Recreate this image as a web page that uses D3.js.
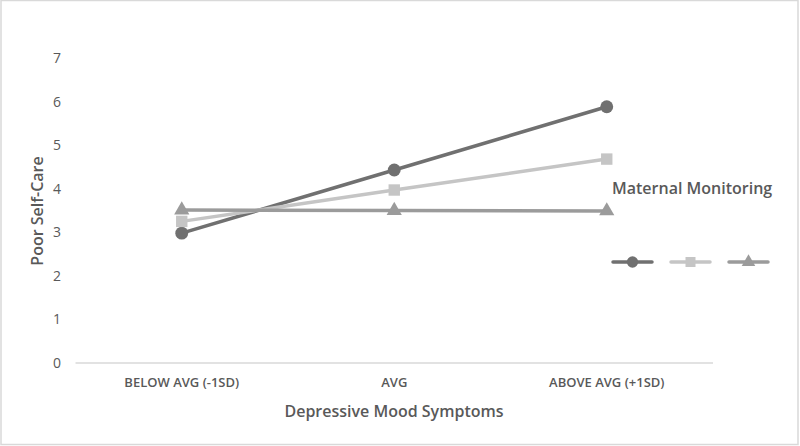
<!DOCTYPE html>
<html><head><meta charset="utf-8">
<script src="https://cdn.jsdelivr.net/npm/d3@7"></script>
<style>html,body{margin:0;padding:0;background:#fff;}svg{display:block;font-family:"Open Sans",sans-serif;}</style>
</head><body><svg id="c" width="800" height="446"></svg>
<script>
const categories = ["BELOW AVG (-1SD)", "AVG", "ABOVE AVG (+1SD)"];
const seriesNames = ["Low", "Average", "High"];
const seriesA = [2.98, 4.43, 5.88];
const seriesB = [3.25, 3.97, 4.68];
const seriesC = [3.51, 3.50, 3.49];
const yTicks = [0, 1, 2, 3, 4, 5, 6, 7];

const series = [
  {name: seriesNames[0], values: seriesA, color: "#707070", shape: d3.symbolCircle},
  {name: seriesNames[1], values: seriesB, color: "#c5c5c5", shape: d3.symbolSquare},
  {name: seriesNames[2], values: seriesC, color: "#9b9b9b", shape: d3.symbolTriangle}
];

const svg = d3.select("#c");
svg.append("rect").attr("x",1).attr("y",0.5).attr("width",797).attr("height",444)
  .attr("fill","#fff").attr("stroke","#d9d9d9").attr("stroke-width",1.5);

const x = d3.scaleBand().domain(categories).range([75.5, 713]);
const y = d3.scaleLinear().domain([0, 7]).range([363, 58]);

const textColor = "#595959";

const yAxis = svg.append("g").attr("transform","translate(61,0)")
  .call(d3.axisLeft(y).tickValues(yTicks).tickFormat(d3.format("d")).tickSize(0).tickPadding(0));
yAxis.select(".domain").remove();
yAxis.selectAll("text").attr("fill",textColor).attr("font-size",14).attr("font-family","Open Sans, sans-serif");

const xAxis = svg.append("g").attr("transform",`translate(0,${y(0)})`)
  .call(d3.axisBottom(x).tickSize(0).tickPadding(15));
xAxis.select(".domain").attr("stroke","#d9d9d9").attr("stroke-width",1.5).attr("d",`M${x.range()[0]},0H${x.range()[1]}`);
xAxis.selectAll("text").attr("fill",textColor).attr("font-size",13).attr("font-weight",600).attr("font-family","Open Sans, sans-serif");

svg.append("text").attr("x",394).attr("y",417).attr("text-anchor","middle")
  .attr("fill",textColor).attr("font-size",16).attr("font-weight",600).text("Depressive Mood Symptoms");
svg.append("text").attr("transform","translate(43,211) rotate(-90)").attr("text-anchor","middle")
  .attr("fill",textColor).attr("font-size",16).attr("font-weight",600).text("Poor Self-Care");

const cx = c => x(c) + x.bandwidth()/2;
const line = d3.line().x((d,i)=>cx(categories[i])).y(d=>y(d));

series.forEach(s => {
  svg.append("path").attr("d", line(s.values)).attr("fill","none")
    .attr("stroke", s.color).attr("stroke-width",3.5).attr("stroke-linecap","round");
});
series.forEach(s => {
  svg.append("g").selectAll("path").data(s.values).join("path")
    .attr("transform",(d,i)=>`translate(${cx(categories[i])},${y(d)})`)
    .attr("d", d3.symbol().type(s.shape).size(s.shape===d3.symbolTriangle?100:130))
    .attr("fill", s.color);
});

svg.append("text").attr("x",612).attr("y",194).attr("fill",textColor)
  .attr("font-size",16).attr("font-weight",600).text("Maternal Monitoring");
const legendX = [613, 671, 729];
series.forEach((s,i) => {
  const g = svg.append("g").attr("transform",`translate(${legendX[i]},262)`);
  g.append("line").attr("x1",0).attr("x2",39).attr("stroke",s.color).attr("stroke-width",3.5).attr("stroke-linecap","round");
  g.append("path").attr("transform","translate(19.5,0)")
    .attr("d", d3.symbol().type(s.shape).size(s.shape===d3.symbolTriangle?80:100)).attr("fill",s.color);
});
</script></body></html>
